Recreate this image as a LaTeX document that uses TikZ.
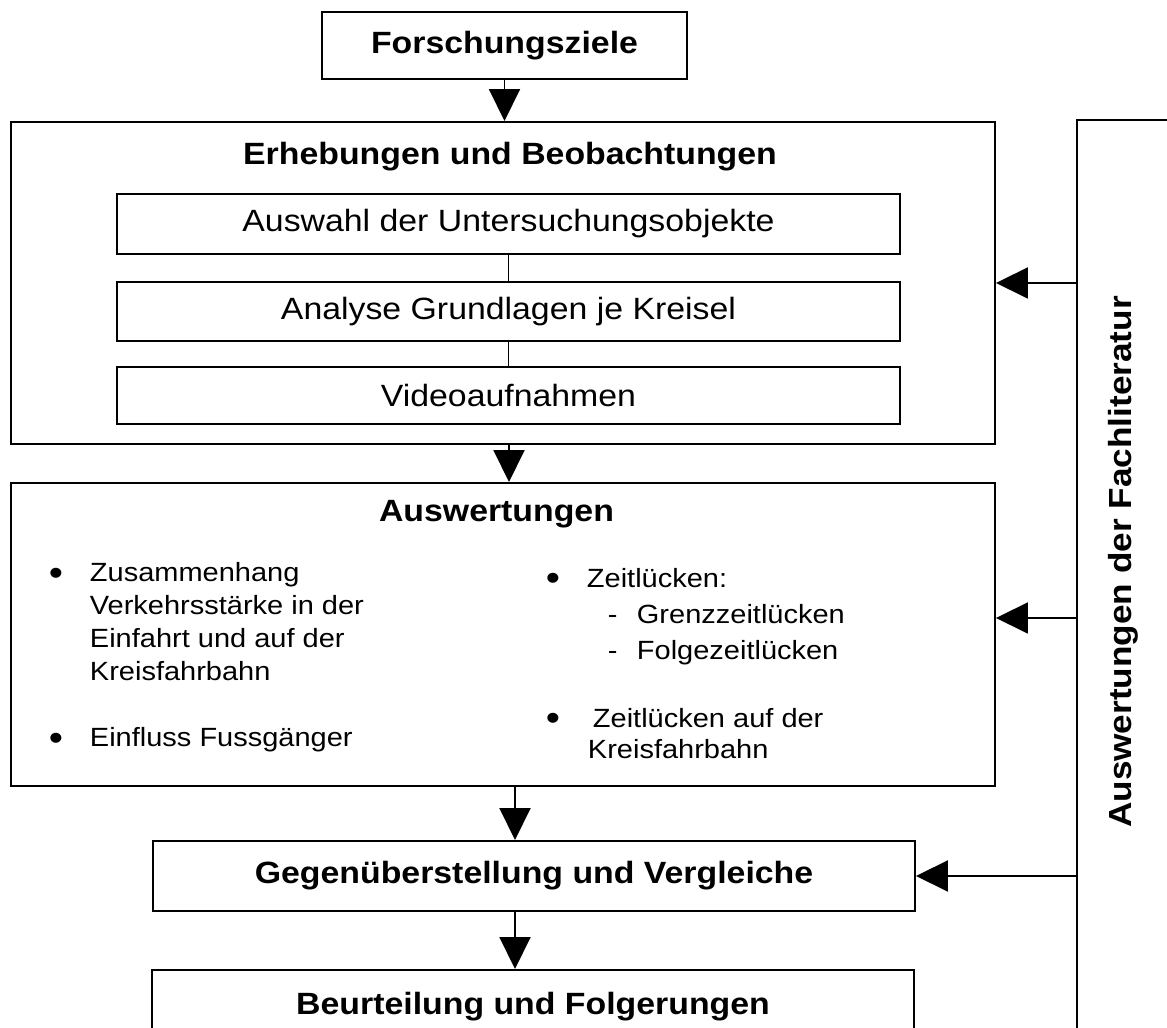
\documentclass[tikz,border=0pt]{standalone}
\usepackage{fontspec}
\setmainfont{Liberation Sans}[FakeStretch=1.1]
\usepackage{tikz}
\usetikzlibrary{arrows.meta,positioning}
\newcommand{\bodyfont}{\fontsize{15}{18.8}\selectfont}
\newcommand{\headfont}{\fontsize{17.5}{21}\selectfont\bfseries}
\newcommand{\boxfont}{\fontsize{17.5}{21}\selectfont}

\begin{document}
\begin{tikzpicture}[
  line width=1.1pt,
  box/.style={draw, align=center, inner sep=0pt},
  head/.style={box, font=\headfont},
  subbox/.style={box, font=\boxfont, minimum width=15.66cm},
  itemtext/.style={anchor=north west, align=left, inner sep=0pt, font=\bodyfont},
  bul/.style={inner sep=0pt, font=\fontsize{21}{21}\selectfont},
  link/.style={line width=0.6pt},
  arr/.style={-{Triangle[length=0.64cm, width=0.62cm]}}
]
\useasboundingbox (0,0) rectangle (23.34,20.56);
\clip (0,0) rectangle (23.34,20.56);

% Start
\node[head, minimum width=7.30cm, minimum height=1.34cm] (forsch) at (10.09,19.65) {Forschungsziele};

% Erhebungen
\node[box, minimum width=19.68cm, minimum height=6.44cm] (erh) at (10.06,14.90) {};
\node[font=\headfont] (erhT) at (10.2,17.42) {Erhebungen und Beobachtungen};
\node[subbox, minimum height=1.20cm] (auswahl) at (10.17,16.08) {Auswahl der Untersuchungsobjekte};
\node[subbox, minimum height=1.18cm] (analyse) at (10.17,14.33) {Analyse Grundlagen je Kreisel};
\node[subbox, minimum height=1.14cm] (video) at (10.17,12.65) {Videoaufnahmen};
\draw[link] (auswahl) -- (analyse);
\draw[link] (analyse) -- (video);

% Auswertungen
\node[box, minimum width=19.68cm, minimum height=6.06cm] (ausw) at (10.06,7.87) {};
\node[font=\headfont] (auswT) at (9.93,10.28) {Auswertungen};
\node[bul] (b1) at (1.12,9.03) {•};
\node[itemtext] (zus) at (1.78,9.33) {Zusammenhang\\Verkehrsstärke in der\\Einfahrt und auf der\\Kreisfahrbahn};
\node[bul] (b2) at (1.12,5.73) {•};
\node[itemtext] (fuss) at (1.78,6.03) {Einfluss Fussgänger};
\node[bul] (b3) at (11.06,8.93) {•};
\node[itemtext] (zeit) at (11.72,9.21) {Zeitlücken:};
\node[itemtext, font=\fontsize{15}{20.5}\selectfont] (arten) at (12.14,8.49) {-\hspace*{11pt}Grenzzeitlücken\\-\hspace*{11pt}Folgezeitlücken};
\node[bul] (b4) at (11.06,6.13) {•};
\node[itemtext, font=\fontsize{15}{17.6}\selectfont] (kreis) at (11.74,6.41) {\hspace*{0.1cm}Zeitlücken auf der\\Kreisfahrbahn};

% Vergleich, Folgerungen
\node[head, minimum width=15.24cm, minimum height=1.40cm] (gegen) at (10.68,3.04) {Gegenüberstellung und Vergleiche};
\node[head, minimum width=15.24cm, minimum height=1.46cm] (beurt) at (10.66,0.43) {Beurteilung und Folgerungen};

% Literatur
\node[box, minimum width=2.46cm, minimum height=18.66cm] (lit) at (22.77,8.83) {};
\node[font=\fontsize{18.2}{21}\selectfont\bfseries, rotate=90] (litT) at (22.46,9.32) {Auswertungen der Fachliteratur};

% Pfeile
\coordinate (mid) at (10.30,0);
\draw[arr] (forsch.south) -- (forsch.south |- erh.north);
\draw[arr] ([xshift=0.12cm]erh.south) -- ([xshift=0.12cm]ausw.north);
\draw[arr] (ausw.south -| mid) -- (gegen.north -| mid);
\draw[arr] (gegen.south -| mid) -- (beurt.north -| mid);
\draw[arr] (erh.east -| lit.west) -- (erh.east);
\draw[arr] ([yshift=0.33cm]ausw.east -| lit.west) -- ([yshift=0.33cm]ausw.east);
\draw[arr] (gegen.east -| lit.west) -- (gegen.east);

\end{tikzpicture}
\end{document}
